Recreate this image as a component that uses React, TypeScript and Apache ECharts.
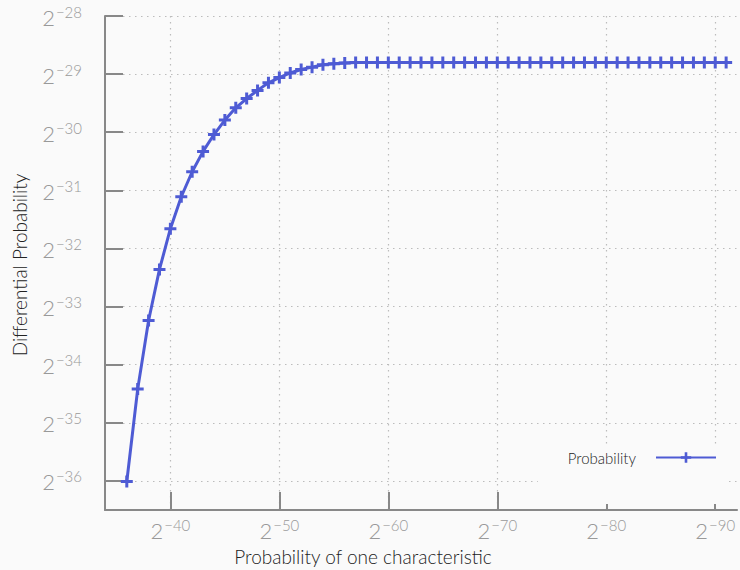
import React, { useEffect, useRef } from 'react';
import * as echarts from 'echarts';

// log2 of the probability of one characteristic (x) and of the differential probability (y)
const xLog2 = [
  -36, -37, -38, -39, -40, -41, -42, -43, -44, -45, -46, -47, -48, -49, -50,
  -51, -52, -53, -54, -55, -56, -57, -58, -59, -60, -61, -62, -63, -64, -65,
  -66, -67, -68, -69, -70, -71, -72, -73, -74, -75, -76, -77, -78, -79, -80,
  -81, -82, -83, -84, -85, -86, -87, -88, -89, -90, -91,
];
const yLog2 = [
  -36.01, -34.42, -33.24, -32.36, -31.66, -31.11, -30.68, -30.33, -30.04, -29.79,
  -29.58, -29.42, -29.28, -29.15, -29.06, -28.98, -28.92, -28.88, -28.84, -28.82,
  -28.81, -28.8, -28.8, -28.8, -28.8, -28.8, -28.8, -28.8, -28.8, -28.8,
  -28.8, -28.8, -28.8, -28.8, -28.8, -28.8, -28.8, -28.8, -28.8, -28.8,
  -28.8, -28.8, -28.8, -28.8, -28.8, -28.8, -28.8, -28.8, -28.8, -28.8,
  -28.8, -28.8, -28.8, -28.8, -28.8, -28.8,
];
const xTicks = [-90, -80, -70, -60, -50, -40];
const yTicks = [-36, -35, -34, -33, -32, -31, -30, -29, -28];
const seriesName = 'Probability';
const xTitle = 'Probability of one characteristic';
const yTitle = 'Differential Probability';

const FONT = 'Lato';
const LABEL_COLOR = '#999999';
const AXIS_COLOR = '#888888';
const GRID_COLOR = '#bcbcbc';
const LINE_COLOR = '#4e5bd4';
const BG = '#fafafa';

const plusPath = 'path://M-1.5,-6H1.5V-1.5H6V1.5H1.5V6H-1.5V1.5H-6V-1.5H-1.5Z';

const powLabel = (v: number) => `{b|2}{s|\u2212${Math.abs(Math.round(v))}}`;

const rich = {
  b: { fontSize: 22, color: LABEL_COLOR, fontFamily: FONT, fontWeight: 300, verticalAlign: 'bottom', lineHeight: 24 },
  s: { fontSize: 15, color: LABEL_COLOR, fontFamily: FONT, fontWeight: 300, verticalAlign: 'bottom', lineHeight: 15, padding: [0, 0, 9, 1] },
};

export default function App() {
  const ref = useRef<HTMLDivElement>(null);
  useEffect(() => {
    document.body.style.margin = '0';
    const chart = echarts.init(ref.current!, undefined, { renderer: 'svg' });
    const data = xLog2.map((x, i) => [x, yLog2[i]]);
    chart.setOption({
      animation: false,
      backgroundColor: BG,
      textStyle: { fontFamily: FONT },
      grid: { left: 105, right: 1, top: 16, bottom: 60 },
      xAxis: {
        type: 'value',
        min: -92,
        max: -34,
        inverse: true,
        axisLine: { show: true, onZero: false, lineStyle: { color: AXIS_COLOR, width: 2 } },
        axisTick: { show: true, inside: true, length: 18, customValues: xTicks, lineStyle: { color: AXIS_COLOR, width: 2 } },
        axisLabel: { customValues: xTicks, margin: 7, formatter: powLabel, rich },
        splitLine: { show: true, lineStyle: { color: GRID_COLOR, width: 1.2, type: [1.5, 4.5] } },
      },
      yAxis: {
        type: 'value',
        min: -36.5,
        max: -28,
        axisLine: { show: true, onZero: false, lineStyle: { color: AXIS_COLOR, width: 2 } },
        axisTick: { show: true, inside: true, length: 18, customValues: yTicks, lineStyle: { color: AXIS_COLOR, width: 2 } },
        axisLabel: { customValues: yTicks, margin: 23, formatter: powLabel, rich },
        splitLine: { show: true, lineStyle: { color: GRID_COLOR, width: 1.2, type: [1.5, 4.5] } },
      },
      legend: {
        data: [seriesName],
        right: 13,
        top: 444,
        align: 'right',
        itemWidth: 60,
        itemHeight: 13,
        padding: [6, 10, 39, 30],
        backgroundColor: BG,
        textStyle: { fontSize: 15, color: '#222', fontFamily: FONT, fontWeight: 300, padding: [0, 15, 0, 0] },
      },
      series: [
        {
          name: seriesName,
          type: 'line',
          data,
          symbol: plusPath,
          symbolSize: 12,
          showSymbol: true,
          lineStyle: { color: LINE_COLOR, width: 3 },
          itemStyle: { color: LINE_COLOR },
          z: 3,
        },
      ],
      graphic: [
        {
          type: 'text',
          x: 363,
          y: 556,
          style: { text: xTitle, fontSize: 19, fontFamily: FONT, fontWeight: 300, fill: '#222', align: 'center', verticalAlign: 'middle' },
        },
        {
          type: 'text',
          x: 19,
          y: 265,
          rotation: Math.PI / 2,
          style: { text: yTitle, fontSize: 19, fontFamily: FONT, fontWeight: 300, fill: '#222', align: 'center', verticalAlign: 'middle' },
        },
      ],
    });
    return () => chart.dispose();
  }, []);
  return <div ref={ref} style={{ width: 740, height: 570 }} />;
}
